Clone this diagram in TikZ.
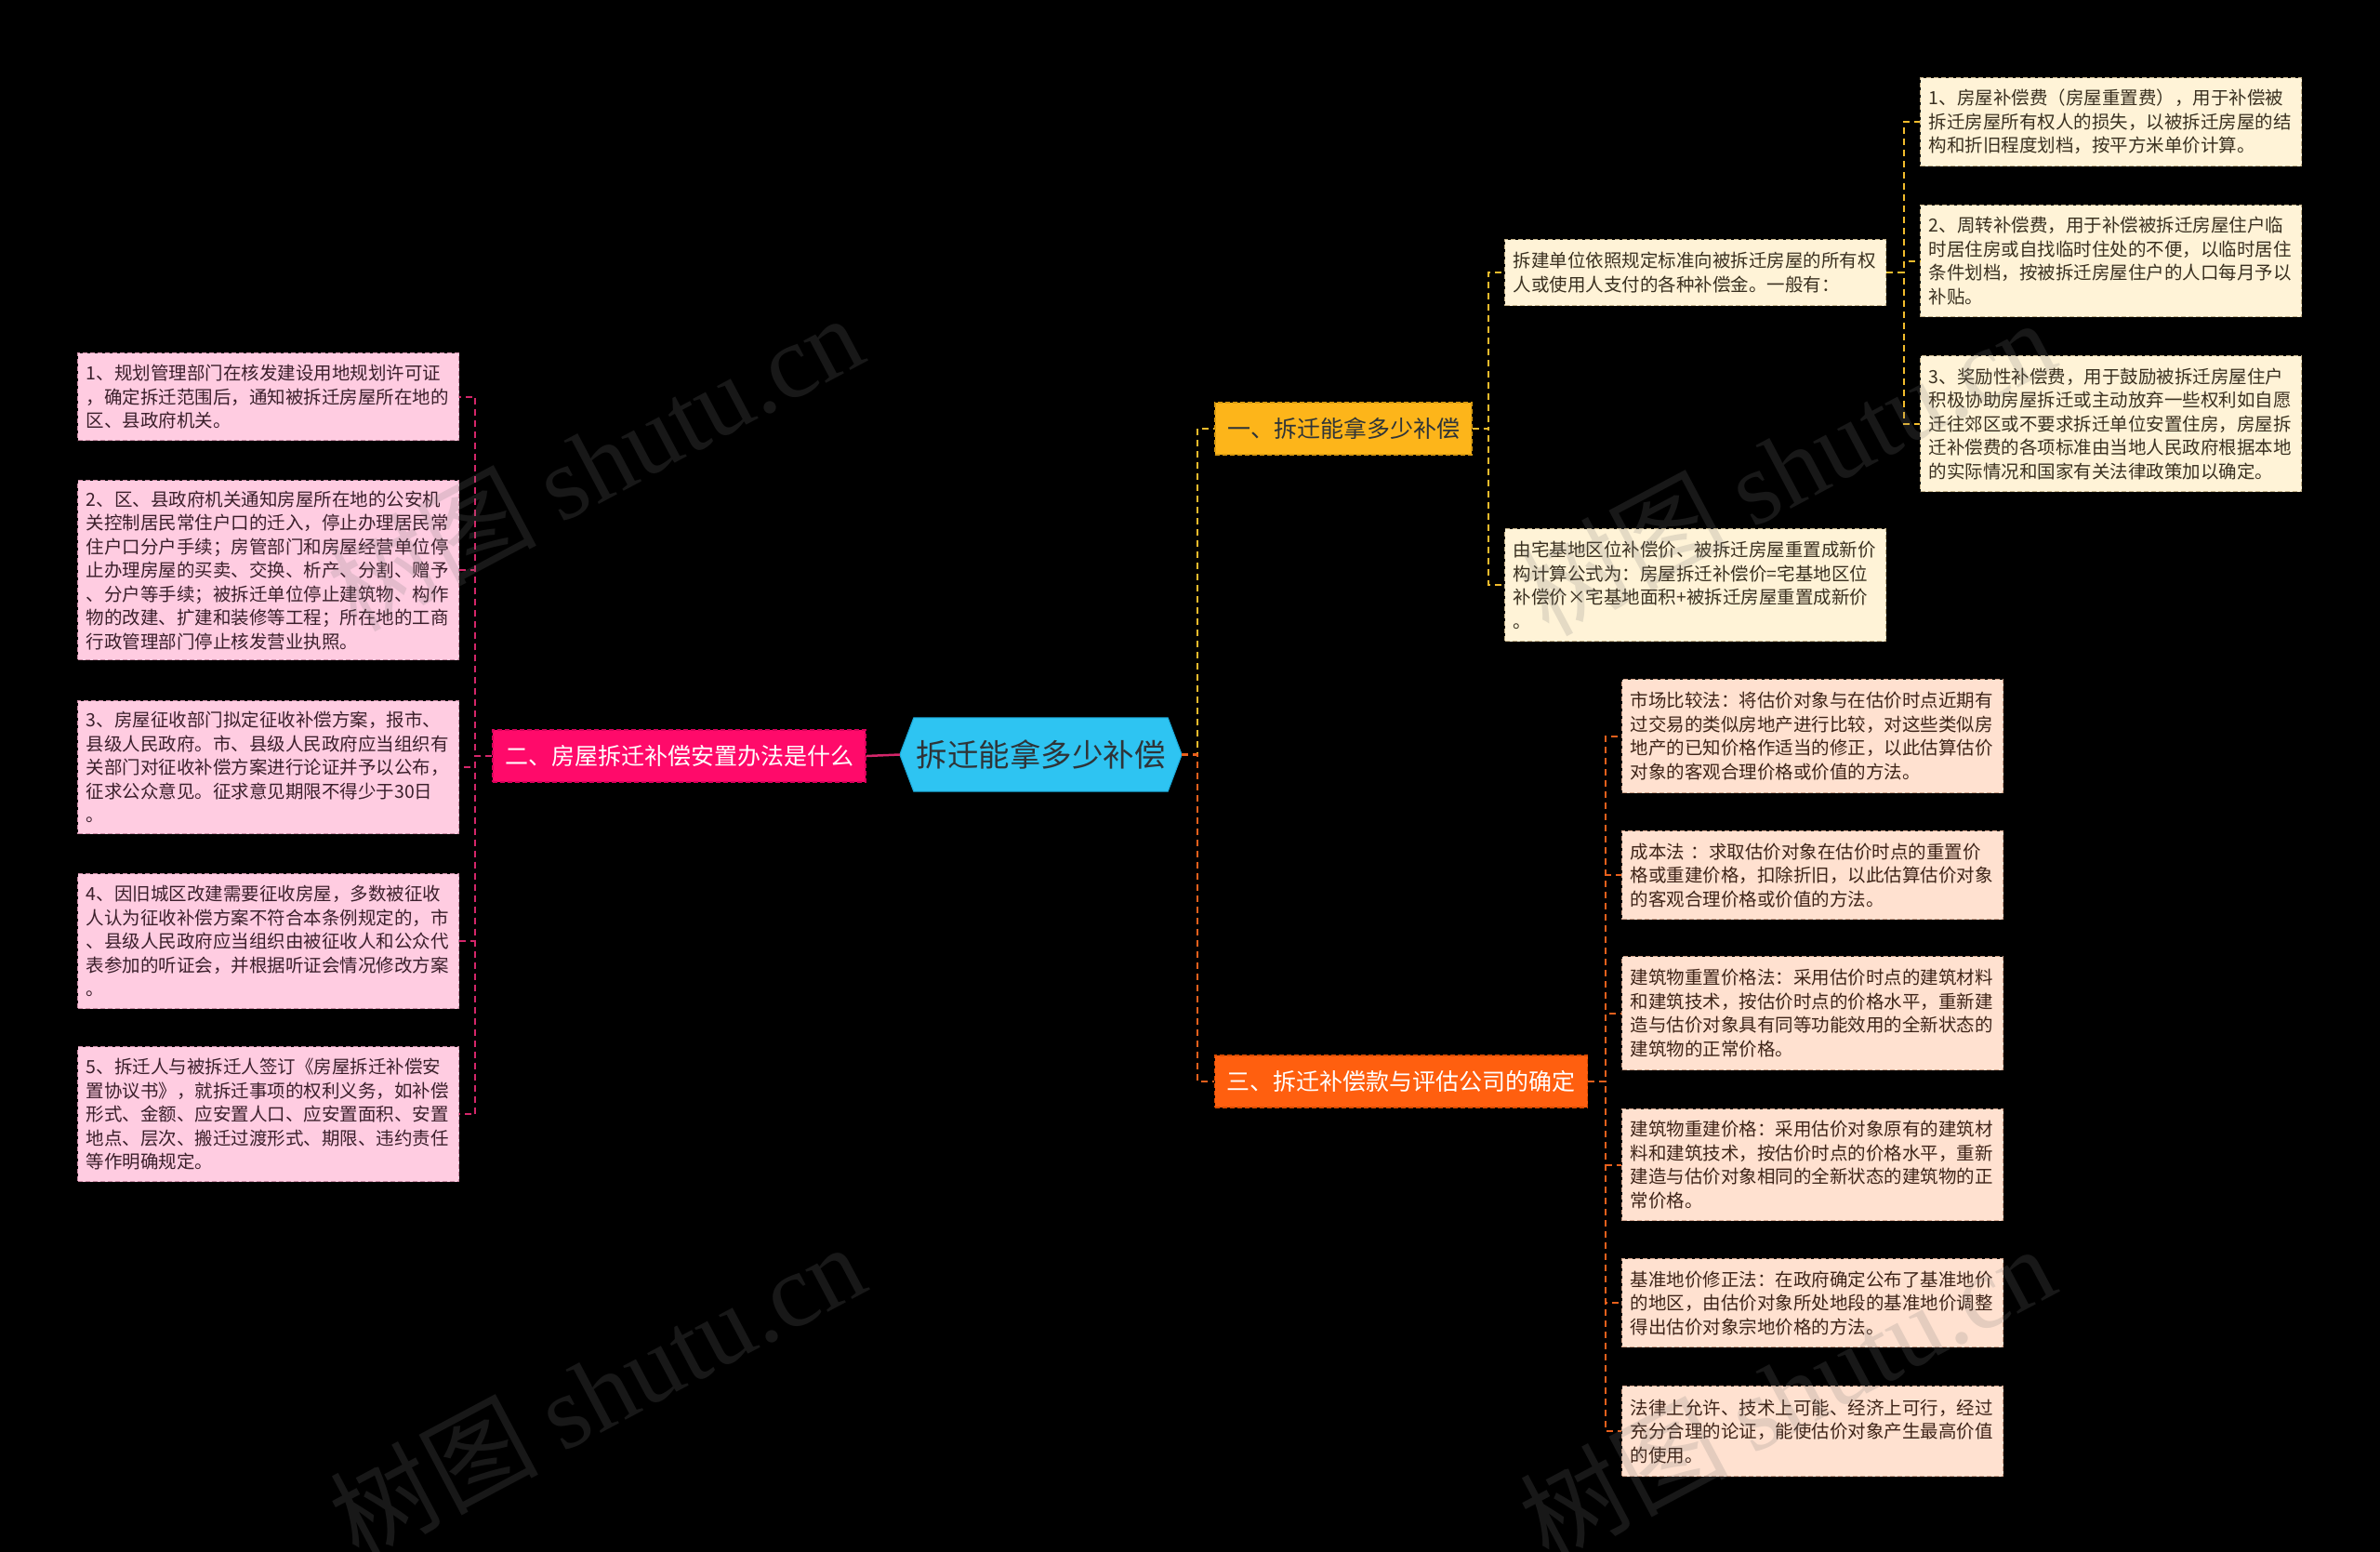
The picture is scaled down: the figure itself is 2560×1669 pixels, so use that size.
\documentclass[tikz,border=0pt]{standalone}
\usepackage{fontspec}
\setmainfont{Noto Sans CJK SC}
\newfontfamily\wmserif{Liberation Serif}
\usetikzlibrary{calc,backgrounds}
\definecolor{rootc}{HTML}{2EC4F2}
\definecolor{rootline}{HTML}{1AA6D6}
\definecolor{roottext}{HTML}{2E3438}
\definecolor{pinkb}{HTML}{FF0A6A}
\definecolor{pinkbd}{HTML}{D8005A}
\definecolor{pinkl}{HTML}{FFCCE1}
\definecolor{pinkld}{HTML}{C98BA4}
\definecolor{pinkt}{HTML}{3B1F2B}
\definecolor{pinkcon}{HTML}{D4266A}
\definecolor{yelb}{HTML}{FDB51A}
\definecolor{yelbd}{HTML}{D99A10}
\definecolor{yell}{HTML}{FFF3D7}
\definecolor{yelld}{HTML}{C4B28A}
\definecolor{yelt}{HTML}{3A3020}
\definecolor{yelcon}{HTML}{F2BC2C}
\definecolor{orab}{HTML}{FF5F0F}
\definecolor{orabd}{HTML}{D94A00}
\definecolor{oral}{HTML}{FFE1D0}
\definecolor{orald}{HTML}{CFA28A}
\definecolor{orat}{HTML}{3E2418}
\definecolor{oracon}{HTML}{E8601C}
\definecolor{wmc}{HTML}{787878}
\tikzset{
  leaf/.style={rectangle, draw=#1, line width=1.4pt, dash pattern=on 5pt off 3pt,
    anchor=north west, inner xsep=9pt, inner ysep=3pt, text width=392pt,
    align=left, font=\fontsize{19.5}{25.5}\selectfont},
  pleaf/.style={leaf=pinkld, fill=pinkl, text=pinkt},
  yleaf/.style={leaf=yelld, fill=yell, text=yelt},
  oleaf/.style={leaf=orald, fill=oral, text=orat},
  branchbox/.style={rectangle, draw=#1, line width=1.4pt, dash pattern=on 5pt off 3pt,
    inner xsep=13pt, inner ysep=2pt, minimum height=56pt,
    font=\fontsize{25}{30}\selectfont},
  con/.style={line width=2.2pt, dash pattern=on 7pt off 5pt},
  wm/.style={text=wmc, text opacity=0.2, rotate=28, font=\fontsize{112}{112}\selectfont}
}
\begin{document}
\begin{tikzpicture}[x=1pt,y=-1pt]
\begin{scope}[on background layer]
\fill[black] (0,0) rectangle (2560,1669);
\end{scope}
\useasboundingbox (0,0) rectangle (2560,1669);

% root
\node[minimum width=303pt, minimum height=79pt, inner sep=0pt, text=roottext,
  font=\fontsize{33.5}{38}\selectfont] (root) at (1119.5,811.5) {拆迁能拿多少补偿};
\begin{scope}[on background layer]
\filldraw[fill=rootc, draw=rootline, line width=1pt]
  (root.west) -- ($(root.north west)+(15,0)$) -- ($(root.north east)+(-15,0)$)
  -- (root.east) -- ($(root.south east)+(-15,0)$) -- ($(root.south west)+(15,0)$) -- cycle;
\end{scope}

% branches
\node[branchbox=pinkbd, fill=pinkb, text=white] (b2) at (730.5,813) {二、房屋拆迁补偿安置办法是什么};
\node[branchbox=yelbd, fill=yelb, text=roottext] (b1) at (1445,461) {一、拆迁能拿多少补偿};
\node[branchbox=orabd, fill=orab, text=white] (b3) at (1507,1163) {三、拆迁补偿款与评估公司的确定};

% left leaves
\node[pleaf, minimum height=94pt] (L1) at (83,379) {1、规划管理部门在核发建设用地规划许可证\\，确定拆迁范围后，通知被拆迁房屋所在地的\\区、县政府机关。};
\node[pleaf, minimum height=193pt] (L2) at (83,516) {2、区、县政府机关通知房屋所在地的公安机\\关控制居民常住户口的迁入，停止办理居民常\\住户口分户手续；房管部门和房屋经营单位停\\止办理房屋的买卖、交换、析产、分割、赠予\\、分户等手续；被拆迁单位停止建筑物、构作\\物的改建、扩建和装修等工程；所在地的工商\\行政管理部门停止核发营业执照。};
\node[pleaf, minimum height=143pt] (L3) at (83,753) {3、房屋征收部门拟定征收补偿方案，报市、\\县级人民政府。市、县级人民政府应当组织有\\关部门对征收补偿方案进行论证并予以公布，\\征求公众意见。征求意见期限不得少于30日\\。};
\node[pleaf, minimum height=145pt] (L4) at (83,939) {4、因旧城区改建需要征收房屋，多数被征收\\人认为征收补偿方案不符合本条例规定的，市\\、县级人民政府应当组织由被征收人和公众代\\表参加的听证会，并根据听证会情况修改方案\\。};
\node[pleaf, minimum height=145pt] (L5) at (83,1125) {5、拆迁人与被拆迁人签订《房屋拆迁补偿安\\置协议书》，就拆迁事项的权利义务，如补偿\\形式、金额、应安置人口、应安置面积、安置\\地点、层次、搬迁过渡形式、期限、违约责任\\等作明确规定。};

% branch 1 leaves
\node[yleaf, minimum height=71pt] (A) at (1618,257) {拆建单位依照规定标准向被拆迁房屋的所有权\\人或使用人支付的各种补偿金。一般有：};
\node[yleaf, minimum height=121pt] (B) at (1618,568) {由宅基地区位补偿价、被拆迁房屋重置成新价\\构计算公式为：房屋拆迁补偿价=宅基地区位\\补偿价×宅基地面积+被拆迁房屋重置成新价\\。};
\node[yleaf, minimum height=95pt] (C1) at (2065,83) {1、房屋补偿费（房屋重置费），用于补偿被\\拆迁房屋所有权人的损失，以被拆迁房屋的结\\构和折旧程度划档，按平方米单价计算。};
\node[yleaf, minimum height=120pt] (C2) at (2065,220) {2、周转补偿费，用于补偿被拆迁房屋住户临\\时居住房或自找临时住处的不便，以临时居住\\条件划档，按被拆迁房屋住户的人口每月予以\\补贴。};
\node[yleaf, minimum height=146pt] (C3) at (2065,382) {3、奖励性补偿费，用于鼓励被拆迁房屋住户\\积极协助房屋拆迁或主动放弃一些权利如自愿\\迁往郊区或不要求拆迁单位安置住房，房屋拆\\迁补偿费的各项标准由当地人民政府根据本地\\的实际情况和国家有关法律政策加以确定。};

% branch 3 leaves
\node[oleaf, minimum height=122pt] (D1) at (1744,730) {市场比较法：将估价对象与在估价时点近期有\\过交易的类似房地产进行比较，对这些类似房\\地产的已知价格作适当的修正，以此估算估价\\对象的客观合理价格或价值的方法。};
\node[oleaf, minimum height=95pt] (D2) at (1744,893) {成本法 ：求取估价对象在估价时点的重置价\\格或重建价格，扣除折旧，以此估算估价对象\\的客观合理价格或价值的方法。};
\node[oleaf, minimum height=122pt] (D3) at (1744,1028) {建筑物重置价格法：采用估价时点的建筑材料\\和建筑技术，按估价时点的价格水平，重新建\\造与估价对象具有同等功能效用的全新状态的\\建筑物的正常价格。};
\node[oleaf, minimum height=120pt] (D4) at (1744,1192) {建筑物重建价格：采用估价对象原有的建筑材\\料和建筑技术，按估价时点的价格水平，重新\\建造与估价对象相同的全新状态的建筑物的正\\常价格。};
\node[oleaf, minimum height=95pt] (D5) at (1744,1353) {基准地价修正法：在政府确定公布了基准地价\\的地区，由估价对象所处地段的基准地价调整\\得出估价对象宗地价格的方法。};
\node[oleaf, minimum height=97pt] (D6) at (1744,1490) {法律上允许、技术上可能、经济上可行，经过\\充分合理的论证，能使估价对象产生最高价值\\的使用。};

% spine coordinates
\coordinate (sL) at (511,0);
\coordinate (s0) at (1288,0);
\coordinate (s1) at (1601,0);
\coordinate (s2) at (2048,0);
\coordinate (s3) at (1727,0);

% connectors
\draw[pinkcon, line width=2.5pt] (root.west) -- (b2.east);
\foreach \n in {L1,L2,L3,L4,L5}
  \draw[con, pinkcon] (b2.west) -- (b2.west -| sL) |- (\n.east);
\draw[con, yelcon] (root.east) -- (root.east -| s0) |- (b1.west);
\draw[con, oracon] (root.east) -- (root.east -| s0) |- (b3.west);
\foreach \n in {A,B}
  \draw[con, yelcon] (b1.east) -- (b1.east -| s1) |- (\n.west);
\foreach \n in {C1,C2,C3}
  \draw[con, yelcon] (A.east) -- (A.east -| s2) |- (\n.west);
\foreach \n in {D1,D2,D3,D4,D5,D6}
  \draw[con, oracon] (b3.east) -- (b3.east -| s3) |- (\n.west);

% watermarks
\node[wm] (wm1) at (640,496) {树图 {\wmserif shutu.cn}};
\node[wm] (wm2) at (642,1495) {树图 {\wmserif shutu.cn}};
\node[wm] (wm3) at (1922,501) {树图 {\wmserif shutu.cn}};
\node[wm] (wm4) at (1922,1497) {树图 {\wmserif shutu.cn}};
\end{tikzpicture}
\end{document}
